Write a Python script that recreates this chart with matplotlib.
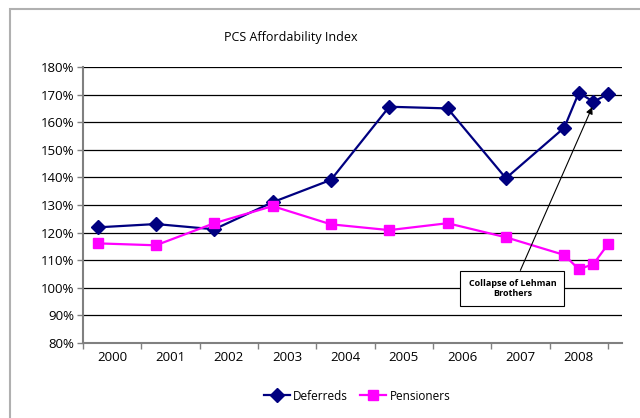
import matplotlib
matplotlib.use("Agg")
import matplotlib.pyplot as plt
from matplotlib.ticker import FixedLocator, FuncFormatter, NullFormatter
from matplotlib.patches import Rectangle

plt.rcParams['font.family'] = ['Open Sans', 'DejaVu Sans']

# data
times = [2000.25, 2001.25, 2002.25, 2003.25, 2004.25, 2005.25, 2006.25, 2007.25,
         2008.25, 2008.5, 2008.75, 2009.0]
deferreds = [121.9, 123.1, 121.2, 131.0, 139.1, 165.6, 165.0, 139.7,
             158.0, 170.7, 167.4, 170.2]
pensioners = [116.1, 115.4, 123.4, 129.6, 123.0, 120.9, 123.4, 118.3,
              111.9, 106.7, 108.6, 115.8]
years = [2000, 2001, 2002, 2003, 2004, 2005, 2006, 2007, 2008]
y_ticks = [80, 90, 100, 110, 120, 130, 140, 150, 160, 170, 180]

fig = plt.figure(figsize=(6.4, 4.18), dpi=100)
ax = fig.add_axes([83/640, 1-343/418, (622-83)/640, (343-67)/418])

# outer border
fig.patches.append(Rectangle((10/640, -0.1), 1.2, 1-9/418+0.1, transform=fig.transFigure,
                             fill=False, edgecolor='#b0b0b0', linewidth=1.5, zorder=0))

ax.plot(times, deferreds, color='#000080', marker='D', markersize=7, linewidth=1.6,
        label='Deferreds', zorder=3)
ax.plot(times, pensioners, color='#ff00ff', marker='s', markersize=7, linewidth=1.6,
        label='Pensioners', zorder=3)

ax.set_xlim(2000, 2009.24)
ax.set_ylim(80, 180)
ax.yaxis.set_major_locator(FixedLocator(y_ticks))
ax.yaxis.set_major_formatter(FuncFormatter(lambda v, p: f"{int(round(v))}%"))
ax.grid(axis='y', color='black', linewidth=0.9)
ax.set_axisbelow(True)

ax.xaxis.set_major_locator(FixedLocator([y for y in years] + [2009]))
ax.xaxis.set_major_formatter(NullFormatter())
ax.xaxis.set_minor_locator(FixedLocator([y + 0.5 for y in years]))
ax.xaxis.set_minor_formatter(FuncFormatter(lambda v, p: str(int(v))))
ax.tick_params(axis='x', which='minor', length=0, labelsize=9.5, pad=6, colors='black')
ax.tick_params(axis='x', which='major', length=4, width=1, color='#808080')
ax.tick_params(axis='y', length=4, width=1, color='#808080', labelsize=9.5, pad=2)

for s in ['top', 'right']:
    ax.spines[s].set_visible(False)
for s in ['left', 'bottom']:
    ax.spines[s].set_color('#808080')
    ax.spines[s].set_linewidth(1.5)

fig.text(291/640, 1-38/418, 'PCS Affordability Index', ha='center', va='center', fontsize=9)

ax.annotate('Collapse of Lehman\nBrothers', xy=(2008.73, 165.5), xytext=(2007.36, 99.7),
            ha='center', va='center', fontsize=6.5, fontweight='bold',
            bbox=dict(boxstyle='square,pad=0.9', facecolor='white', edgecolor='black', linewidth=0.8),
            arrowprops=dict(arrowstyle='-|>', color='black', linewidth=0.8, mutation_scale=10,
                            shrinkA=0, shrinkB=0),
            zorder=5)

fig.legend(loc='center', bbox_to_anchor=(357/640, 1-396/418), ncol=2, frameon=False,
           fontsize=8.5, handlelength=2.2, columnspacing=1.0, handletextpad=0.3)

fig.savefig('out.png', dpi=100)
